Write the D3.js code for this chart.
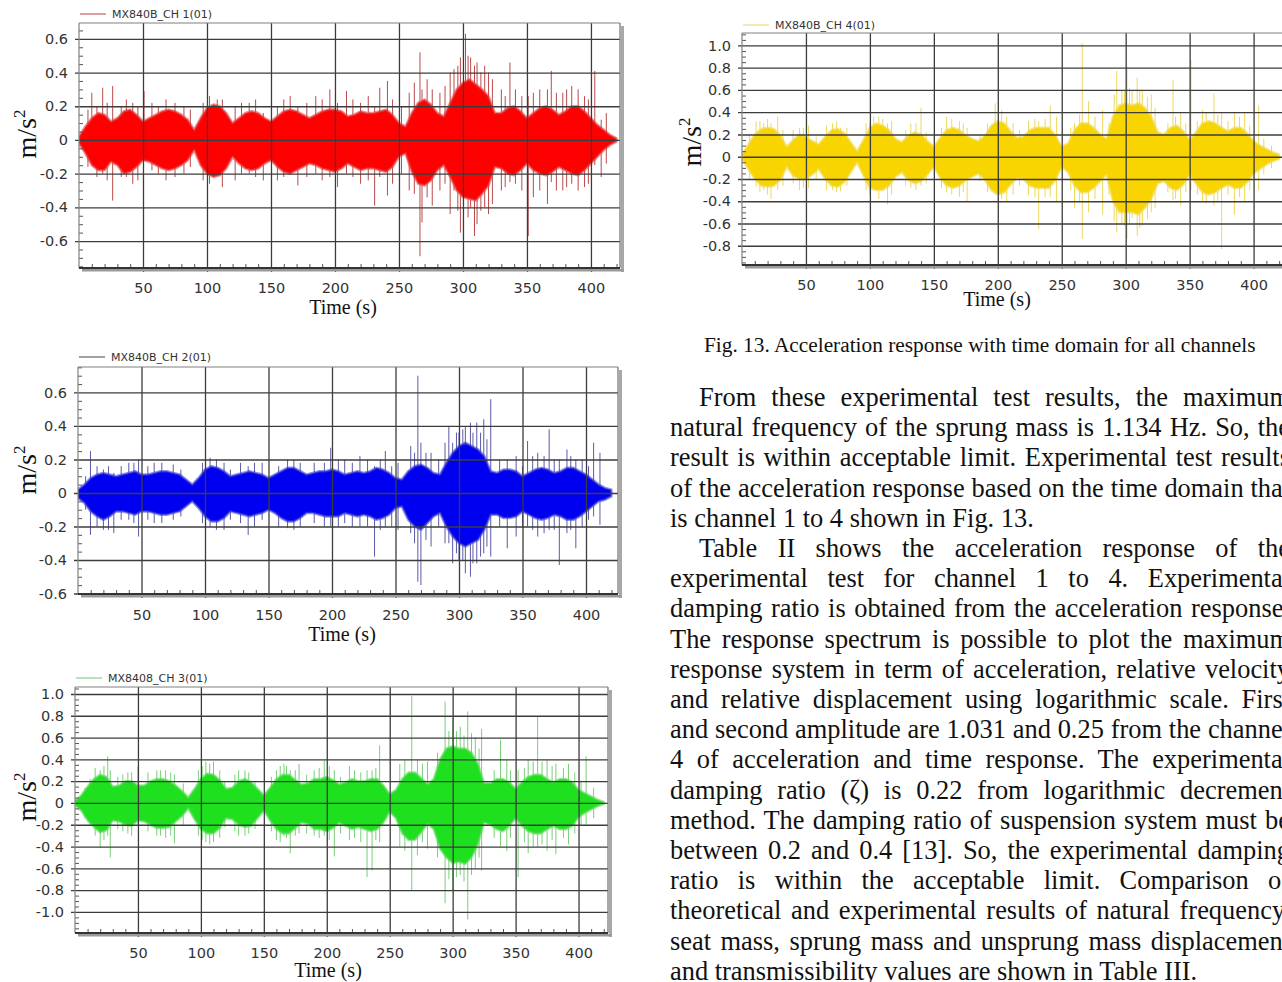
<!DOCTYPE html>
<html lang="en">
<head>
<meta charset="UTF-8" />
<title>Fig. 13 Acceleration response</title>
<script src="https://cdn.jsdelivr.net/npm/d3@7"></script>
<style>
  body { margin: 0; background: #fff; overflow: hidden; }
  svg { display: block; }
  .tick text { font-family: "DejaVu Sans", Verdana, sans-serif; font-size: 14.5px; fill: #333; }
  .legend { font-family: "DejaVu Sans", sans-serif; font-size: 11px; fill: #333; }
  .serif { font-family: "Liberation Serif", "Times New Roman", serif; fill: #111; }
</style>
</head>
<body>
<svg id="page" width="1282" height="982"></svg>
<script>
// sample times of the envelope readings (s)
var times = [0,5,10,15,20,25,30,35,40,45,50,55,60,65,70,75,80,85,90,95,
  100,105,110,115,120,125,130,135,140,145,150,155,160,165,170,175,180,185,190,195,
  200,205,210,215,220,225,230,235,240,245,250,255,260,265,270,275,280,285,290,295,
  300,305,310,315,320,325,330,335,340,345,350,355,360,365,370,375,380,385,390,395,
  400,405,410,415,420];

var xTicks = [50,100,150,200,250,300,350,400];
var yTicks1 = [-0.6,-0.4,-0.2,0,0.2,0.4,0.6];
var yTicks2 = [-0.6,-0.4,-0.2,0,0.2,0.4,0.6];
var yTicks3 = [-1.0,-0.8,-0.6,-0.4,-0.2,0,0.2,0.4,0.6,0.8,1.0];
var yTicks4 = [-0.8,-0.6,-0.4,-0.2,0,0.2,0.4,0.6,0.8,1.0];

// dense body of the signal: upper / lower extent every 5 s (m/s^2)
var ch1Upper = [0.02,0.08,0.13,0.16,0.15,0.11,0.13,0.17,0.18,0.15,
  0.11,0.13,0.15,0.17,0.18,0.17,0.15,0.12,0.06,0.13,
  0.19,0.21,0.20,0.16,0.10,0.13,0.16,0.17,0.16,0.13,
  0.11,0.14,0.17,0.18,0.17,0.15,0.13,0.15,0.17,0.18,
  0.18,0.17,0.14,0.15,0.17,0.16,0.16,0.17,0.18,0.15,
  0.10,0.08,0.16,0.22,0.24,0.21,0.16,0.14,0.22,0.30,
  0.34,0.36,0.33,0.30,0.26,0.16,0.16,0.19,0.20,0.17,
  0.13,0.16,0.19,0.20,0.18,0.15,0.17,0.20,0.20,0.17,
  0.13,0.09,0.06,0.03,0.01];
var ch1Lower = [-0.02,-0.08,-0.15,-0.18,-0.18,-0.13,-0.15,-0.20,-0.19,-0.16,
  -0.12,-0.13,-0.15,-0.17,-0.18,-0.17,-0.15,-0.12,-0.06,-0.15,
  -0.20,-0.22,-0.21,-0.17,-0.10,-0.14,-0.17,-0.18,-0.17,-0.14,
  -0.12,-0.16,-0.19,-0.20,-0.18,-0.16,-0.14,-0.15,-0.17,-0.18,
  -0.19,-0.17,-0.14,-0.16,-0.18,-0.17,-0.17,-0.18,-0.19,-0.16,
  -0.10,-0.08,-0.19,-0.26,-0.27,-0.24,-0.18,-0.15,-0.22,-0.30,
  -0.34,-0.35,-0.36,-0.32,-0.27,-0.16,-0.17,-0.20,-0.21,-0.18,
  -0.14,-0.18,-0.20,-0.21,-0.19,-0.16,-0.18,-0.20,-0.21,-0.18,
  -0.14,-0.10,-0.06,-0.03,-0.01];

var ch2Upper = [0.02,0.05,0.09,0.11,0.12,0.11,0.10,0.11,0.12,0.13,
  0.11,0.11,0.12,0.13,0.13,0.12,0.11,0.08,0.05,0.09,
  0.14,0.16,0.15,0.13,0.10,0.11,0.12,0.13,0.12,0.11,
  0.09,0.11,0.13,0.15,0.15,0.13,0.11,0.12,0.13,0.13,
  0.14,0.13,0.11,0.12,0.13,0.12,0.13,0.15,0.14,0.12,
  0.09,0.08,0.13,0.16,0.17,0.15,0.12,0.11,0.18,0.24,
  0.28,0.30,0.28,0.26,0.22,0.13,0.12,0.14,0.14,0.13,
  0.10,0.12,0.14,0.15,0.14,0.12,0.13,0.15,0.15,0.13,
  0.11,0.08,0.05,0.03,0.02];
var ch2Lower = [-0.03,-0.06,-0.11,-0.14,-0.16,-0.14,-0.11,-0.11,-0.12,-0.13,
  -0.11,-0.11,-0.12,-0.13,-0.13,-0.12,-0.11,-0.08,-0.05,-0.09,
  -0.14,-0.17,-0.17,-0.15,-0.11,-0.12,-0.13,-0.14,-0.13,-0.12,
  -0.10,-0.12,-0.15,-0.17,-0.17,-0.15,-0.12,-0.12,-0.13,-0.14,
  -0.14,-0.14,-0.12,-0.13,-0.14,-0.13,-0.14,-0.16,-0.15,-0.13,
  -0.09,-0.08,-0.16,-0.20,-0.22,-0.18,-0.14,-0.12,-0.20,-0.26,
  -0.30,-0.32,-0.30,-0.28,-0.22,-0.13,-0.13,-0.15,-0.15,-0.14,
  -0.11,-0.13,-0.15,-0.16,-0.15,-0.13,-0.14,-0.16,-0.16,-0.14,
  -0.11,-0.08,-0.05,-0.04,-0.02];

var ch3Upper = [0.02,0.07,0.15,0.22,0.26,0.24,0.15,0.16,0.20,0.20,
  0.16,0.16,0.20,0.22,0.22,0.20,0.16,0.11,0.05,0.13,
  0.22,0.27,0.26,0.21,0.13,0.14,0.20,0.22,0.19,0.13,
  0.07,0.14,0.22,0.26,0.26,0.21,0.17,0.18,0.22,0.22,
  0.24,0.21,0.17,0.19,0.22,0.20,0.20,0.22,0.22,0.16,
  0.08,0.12,0.22,0.28,0.28,0.23,0.17,0.22,0.40,0.50,
  0.52,0.50,0.50,0.46,0.36,0.18,0.18,0.22,0.22,0.19,
  0.13,0.19,0.24,0.26,0.26,0.22,0.19,0.22,0.22,0.19,
  0.12,0.09,0.06,0.03,0.01];
var ch3Lower = [-0.02,-0.07,-0.16,-0.22,-0.27,-0.25,-0.16,-0.17,-0.20,-0.21,
  -0.16,-0.17,-0.20,-0.23,-0.23,-0.22,-0.17,-0.12,-0.05,-0.15,
  -0.24,-0.28,-0.28,-0.23,-0.14,-0.15,-0.20,-0.22,-0.21,-0.14,
  -0.07,-0.16,-0.24,-0.28,-0.28,-0.23,-0.18,-0.19,-0.24,-0.24,
  -0.26,-0.23,-0.18,-0.21,-0.24,-0.22,-0.24,-0.26,-0.24,-0.18,
  -0.08,-0.14,-0.28,-0.34,-0.34,-0.27,-0.19,-0.24,-0.42,-0.50,
  -0.55,-0.54,-0.56,-0.50,-0.38,-0.18,-0.20,-0.24,-0.26,-0.21,
  -0.14,-0.21,-0.26,-0.28,-0.28,-0.24,-0.21,-0.24,-0.24,-0.21,
  -0.13,-0.09,-0.06,-0.03,-0.01];

var ch4Upper = [0.02,0.11,0.20,0.25,0.26,0.25,0.19,0.09,0.15,0.20,
  0.18,0.14,0.11,0.18,0.24,0.25,0.21,0.13,0.05,0.15,
  0.26,0.30,0.28,0.24,0.16,0.13,0.19,0.22,0.20,0.14,
  0.09,0.17,0.24,0.26,0.24,0.19,0.16,0.14,0.19,0.28,
  0.32,0.30,0.23,0.17,0.18,0.24,0.26,0.26,0.26,0.19,
  0.09,0.12,0.24,0.30,0.30,0.26,0.20,0.16,0.36,0.46,
  0.48,0.46,0.48,0.44,0.36,0.22,0.20,0.26,0.28,0.23,
  0.15,0.22,0.30,0.32,0.30,0.26,0.23,0.26,0.26,0.21,
  0.14,0.10,0.07,0.04,0.02];
var ch4Lower = [-0.02,-0.11,-0.20,-0.26,-0.27,-0.26,-0.21,-0.09,-0.17,-0.20,
  -0.20,-0.16,-0.11,-0.20,-0.26,-0.27,-0.23,-0.14,-0.05,-0.17,
  -0.28,-0.30,-0.30,-0.26,-0.18,-0.14,-0.21,-0.24,-0.22,-0.16,
  -0.09,-0.19,-0.26,-0.28,-0.26,-0.21,-0.18,-0.15,-0.21,-0.30,
  -0.34,-0.32,-0.25,-0.19,-0.20,-0.26,-0.28,-0.28,-0.28,-0.21,
  -0.09,-0.14,-0.26,-0.32,-0.32,-0.28,-0.22,-0.16,-0.40,-0.50,
  -0.50,-0.50,-0.52,-0.46,-0.38,-0.24,-0.22,-0.28,-0.30,-0.25,
  -0.16,-0.24,-0.32,-0.34,-0.32,-0.28,-0.25,-0.28,-0.28,-0.23,
  -0.15,-0.11,-0.07,-0.04,-0.02];

// peaks sticking out of the body: [time, top, bottom]
var ch1Spikes = [[7,0.18,-0.16],[10,0.28,-0.1],[14,0.2,-0.22],[18.5,0.31,-0.2],[22,0.22,-0.24],
  [26.3,0.32,-0.36],[33,0.2,-0.22],[37,0.24,-0.22],[42,0.22,-0.26],[46,0.2,-0.24],[50.8,0.29,-0.12],
  [57,0.22,-0.18],[62,0.2,-0.2],[68,0.24,-0.24],[75,0.22,-0.22],[82,0.2,-0.2],[87,0.18,-0.16],
  [97,0.22,-0.24],[102,0.26,-0.26],[108,0.24,-0.2],[112,0.24,-0.28],[122,0.2,-0.24],[127,0.22,-0.2],
  [133,0.22,-0.2],[138,0.24,-0.22],[144,0.16,-0.24],[155,0.2,-0.24],[160,0.24,-0.22],[165,0.26,-0.2],
  [171,0.2,-0.27],[178,0.22,-0.22],[185,0.26,-0.2],[190,0.24,-0.24],[196,0.3,-0.22],[202,0.22,-0.28],
  [209,0.29,-0.2],[214,0.24,-0.22],[220,0.22,-0.26],[226,0.26,-0.24],[231,0.2,-0.39],[235,0.31,-0.22],
  [241,0.35,-0.33],[245,0.24,-0.26],[252,0.2,-0.2],[258,0.28,-0.3],[262,0.34,-0.32],[266.4,0.52,-0.69],
  [268,0.3,-0.49],[272,0.36,-0.34],[276,0.3,-0.39],[282,0.28,-0.3],[286,0.32,-0.26],[290,0.4,-0.44],
  [293,0.42,-0.3],[296,0.44,-0.42],[298,0.49,-0.55],[302,0.63,-0.3],[304,0.5,-0.46],[306,0.49,-0.4],
  [309,0.44,-0.57],[311,0.46,-0.5],[314,0.4,-0.42],[317,0.44,-0.4],[320,0.4,-0.44],[323,0.36,-0.38],
  [330,0.3,-0.3],[333,0.26,-0.28],[336.7,0.46,-0.25],[341,0.3,-0.26],[346,0.26,-0.3],[351,0.26,-0.57],
  [355,0.28,-0.34],[360,0.3,-0.3],[366,0.3,-0.38],[369,0.41,-0.25],[373,0.28,-0.3],[378,0.28,-0.3],
  [381,0.3,-0.28],[385,0.32,-0.26],[390,0.3,-0.3],[395,0.26,-0.28],[398,0.24,-0.26],[403,0.41,-0.15],
  [408,0.12,-0.22],[412,0.16,-0.14]];
var ch2Spikes = [[6,0.1,-0.1],[9.8,0.25,-0.25],[15,0.16,-0.2],[20,0.14,-0.22],[24,0.16,-0.22],
  [28.2,0.12,-0.24],[34,0.16,-0.16],[40,0.18,-0.16],[44,0.18,-0.18],[47.7,0.2,-0.26],[55,0.16,-0.16],
  [60,0.18,-0.18],[66,0.18,-0.18],[75,0.17,-0.16],[81,0.14,-0.14],[98,0.18,-0.18],[104,0.21,-0.2],
  [109,0.2,-0.22],[115,0.18,-0.22],[120,0.14,-0.16],[128,0.18,-0.18],[134,0.16,-0.25],[139,0.18,-0.2],
  [145,0.18,-0.16],[158,0.16,-0.2],[165,0.2,-0.21],[170,0.2,-0.22],[175,0.18,-0.2],[186,0.18,-0.18],
  [194,0.18,-0.2],[199,0.27,-0.2],[205,0.2,-0.2],[210,0.2,-0.18],[216,0.18,-0.2],[222,0.22,-0.2],
  [228,0.2,-0.2],[233.5,0.16,-0.38],[238,0.2,-0.22],[242,0.25,-0.2],[247,0.16,-0.2],[252,0.18,-0.22],
  [262,0.28,-0.24],[265,0.24,-0.3],[267.6,0.7,-0.53],[270,0.3,-0.55],[274,0.24,-0.28],[278,0.24,-0.32],
  [284,0.2,-0.2],[289,0.3,-0.3],[292,0.4,-0.3],[295,0.3,-0.42],[298,0.36,-0.36],[300,0.36,-0.4],
  [303,0.38,-0.4],[305,0.4,-0.48],[309,0.42,-0.5],[311,0.36,-0.42],[314,0.42,-0.42],[317,0.36,-0.38],
  [319.5,0.44,-0.36],[322,0.32,-0.32],[325,0.56,-0.38],[332,0.2,-0.2],[338,0.2,-0.33],[345,0.22,-0.26],
  [350,0.16,-0.2],[354,0.31,-0.2],[358,0.22,-0.22],[362,0.24,-0.26],[367,0.22,-0.24],[371,0.38,-0.22],
  [375,0.2,-0.22],[379,0.2,-0.43],[385,0.26,-0.24],[388,0.22,-0.22],[392,0.2,-0.33],[397,0.2,-0.2],
  [402,0.16,-0.16],[406,0.3,-0.14],[411,0.24,-0.19]];
var ch3Spikes = [[8,0.14,-0.14],[12,0.22,-0.2],[16,0.32,-0.3],[20,0.3,-0.41],[23,0.34,-0.34],
  [26,0.43,-0.3],[28,0.3,-0.5],[34,0.24,-0.24],[38,0.26,-0.26],[42,0.28,-0.28],[45,0.28,-0.3],
  [50,0.33,-0.2],[58,0.28,-0.26],[65,0.3,-0.3],[68,0.3,-0.3],[72,0.3,-0.32],[76,0.28,-0.3],
  [79,0.26,-0.37],[86,0.18,-0.2],[98,0.3,-0.3],[101,0.34,-0.34],[104,0.38,-0.36],[107,0.36,-0.38],
  [110,0.38,-0.36],[115,0.3,-0.32],[119,0.2,-0.22],[127,0.26,-0.26],[130,0.3,-0.3],[135,0.3,-0.3],
  [138,0.28,-0.28],[143,0.2,-0.24],[156,0.24,-0.26],[160,0.3,-0.34],[163,0.34,-0.36],[166,0.36,-0.3],
  [168,0.34,-0.32],[171,0.3,-0.46],[175,0.3,-0.3],[178,0.36,-0.28],[184,0.26,-0.28],[190,0.3,-0.3],
  [194,0.32,-0.32],[198,0.39,-0.3],[202,0.34,-0.34],[206,0.3,-0.49],[211,0.24,-0.28],[218,0.34,-0.34],
  [222,0.3,-0.32],[227,0.28,-0.36],[232,0.3,-0.68],[236,0.3,-0.62],[239,0.32,-0.34],[242,0.53,-0.36],
  [258,0.36,-0.4],[262,0.4,-0.44],[267.5,0.98,-0.8],[272,0.4,-0.48],[276,0.36,-0.36],[280,0.38,-0.42],
  [288,0.46,-0.5],[294,0.93,-0.92],[297,0.66,-0.7],[300,0.78,-0.8],[303,0.66,-0.68],[306,0.7,-0.66],
  [309,0.62,-0.72],[312,0.84,-1.07],[315,0.64,-0.66],[318,0.6,-0.6],[321,0.5,-0.5],[323,0.68,-0.62],
  [333,0.3,-0.32],[338,0.58,-0.4],[343,0.4,-0.44],[346,0.3,-0.32],[352,0.3,-0.68],[357,0.32,-0.36],
  [360,0.4,-0.46],[364,0.38,-0.4],[367.5,0.79,-0.4],[371,0.38,-0.38],[375,0.4,-0.44],[379,0.34,-0.34],
  [382,0.36,-0.47],[388,0.32,-0.32],[392,0.36,-0.38],[397,0.28,-0.28],[402,0.2,-0.2],[406,0.43,-0.2],
  [412,0.14,-0.14]];
var ch4Spikes = [[6,0.2,-0.2],[11,0.32,-0.27],[14,0.32,-0.32],[17,0.3,-0.3],[20,0.34,-0.34],
  [22.7,0.3,-0.38],[27.9,0.36,-0.3],[32,0.24,-0.26],[40,0.24,-0.24],[45,0.26,-0.3],[48,0.26,-0.28],
  [52,0.28,-0.28],[58,0.18,-0.2],[66,0.28,-0.3],[70.8,0.3,-0.3],[74,0.32,-0.32],[77,0.26,-0.31],
  [82,0.26,-0.26],[97,0.3,-0.3],[100,0.3,-0.34],[103,0.36,-0.3],[107,0.36,-0.38],[110,0.34,-0.3],
  [113.8,0.3,-0.43],[117,0.32,-0.34],[128,0.24,-0.26],[132,0.3,-0.28],[136,0.3,-0.3],[140,0.44,-0.26],
  [144,0.22,-0.24],[156,0.26,-0.28],[160,0.36,-0.32],[164,0.34,-0.34],[170,0.32,-0.36],[173,0.3,-0.32],
  [176,0.26,-0.4],[186,0.2,-0.22],[192,0.3,-0.32],[198,0.48,-0.34],[203,0.42,-0.38],[207,0.36,-0.4],
  [212,0.3,-0.34],[217,0.24,-0.26],[224,0.32,-0.34],[229,0.34,-0.36],[232,0.32,-0.65],[237,0.34,-0.36],
  [241,0.46,-0.36],[246,0.36,-0.4],[257,0.26,-0.3],[260,0.3,-0.46],[264,0.38,-0.4],[266,1.02,-0.74],
  [271,0.5,-0.5],[276,0.36,-0.38],[282,0.42,-0.52],[287,0.3,-0.34],[291,0.56,-0.58],[293,0.77,-0.68],
  [297,0.6,-0.6],[299,0.6,-0.62],[301,0.81,-0.74],[303,0.62,-0.6],[305,0.6,-0.55],[309,0.71,-0.71],
  [311,0.6,-0.64],[313,0.6,-0.62],[317,0.54,-0.56],[320,0.56,-0.5],[323,0.44,-0.46],[333,0.3,-0.32],
  [337,0.69,-0.39],[339,0.36,-0.38],[343,0.4,-0.44],[347,0.3,-0.32],[351,0.87,-0.3],[356,0.32,-0.34],
  [360,0.42,-0.4],[363,0.4,-0.42],[369,0.57,-0.44],[372,0.38,-0.4],[375,0.4,-0.83],[380,0.32,-0.34],
  [385,0.4,-0.52],[389,0.36,-0.36],[393,0.4,-0.4],[397,0.28,-0.3],[404,0.46,-0.3],[408,0.16,-0.16],
  [414,0.1,-0.1]];

var legendNames = ["MX840B_CH 1(01)", "MX840B_CH 2(01)", "MX8408_CH 3(01)", "MX840B_CH 4(01)"];

var captionText = "Fig. 13. Acceleration response with time domain for all channels";
// [text, indented, justified]
var paragraphLines = [
  ["From these experimental test results, the maximum", true, true],
  ["natural frequency of the sprung mass is 1.134 Hz. So, the", false, true],
  ["result is within acceptable limit. Experimental test results", false, true],
  ["of the acceleration response based on the time domain that", false, true],
  ["is channel 1 to 4 shown in Fig. 13.", false, false],
  ["Table II shows the acceleration response of the", true, true],
  ["experimental test for channel 1 to 4. Experimental", false, true],
  ["damping ratio is obtained from the acceleration response.", false, true],
  ["The response spectrum is possible to plot the maximum", false, true],
  ["response system in term of acceleration, relative velocity", false, true],
  ["and relative displacement using logarithmic scale. First", false, true],
  ["and second amplitude are 1.031 and 0.25 from the channel", false, true],
  ["4 of acceleration and time response. The experimental", false, true],
  ["damping ratio (\u03b6) is 0.22 from logarithmic decrement", false, true],
  ["method. The damping ratio of suspension system must be", false, true],
  ["between 0.2 and 0.4 [13]. So, the experimental damping", false, true],
  ["ratio is within the acceptable limit. Comparison of", false, true],
  ["theoretical and experimental results of natural frequency,", false, true],
  ["seat mass, sprung mass and unsprung mass displacement", false, true],
  ["and transmissibility values are shown in Table III.", false, false]
];

var svg = d3.select("#page");

var charts = [
  { id: "c1", name: legendNames[0], up: ch1Upper, lo: ch1Lower, spikes: ch1Spikes, yTicks: yTicks1,
    body: "#ff0000", edge: "#e04848", spike: "#b94a4a", key: "#b84040",
    l: 79, r: 620, t: 23, b: 268, xMax: 422.7, yMin: -0.76, yMax: 0.694,
    yLab: [26, 134], xLab: [343, 314], xTickBase: 293, legendY: 14 },
  { id: "c2", name: legendNames[1], up: ch2Upper, lo: ch2Lower, spikes: ch2Spikes, yTicks: yTicks2,
    body: "#0000f0", edge: "#4848d0", spike: "#5a5aa8", key: "#444",
    l: 78, r: 618, t: 367, b: 594, xMax: 425.2, yMin: -0.603, yMax: 0.752,
    yLab: [26, 470], xLab: [342, 641], xTickBase: 620, legendY: 357 },
  { id: "c3", name: legendNames[2], up: ch3Upper, lo: ch3Lower, spikes: ch3Spikes, yTicks: yTicks3,
    body: "#1ee01e", edge: "#5cd85c", spike: "#78d078", key: "#6cc86c",
    l: 75, r: 608, t: 687, b: 933, xMax: 423.4, yMin: -1.193, yMax: 1.064,
    yLab: [26, 797], xLab: [328, 977], xTickBase: 958, legendY: 678 },
  { id: "c4", name: legendNames[3], up: ch4Upper, lo: ch4Lower, spikes: ch4Spikes, yTicks: yTicks4,
    body: "#f8d400", edge: "#f2d84a", spike: "#eed85a", key: "#e8d470",
    l: 742, r: 1283, t: 33, b: 265, xMax: 423, yMin: -0.973, yMax: 1.112,
    yLab: [691, 142], xLab: [997, 306], xTickBase: 290, legendY: 25 }
];

var tickFont = 14.5;

function fmtY(v) {
  if (v === 0) return "0";
  return (v < 0 ? "-" : "") + Math.abs(v).toFixed(1);
}

function drawChart(c) {
  var x = d3.scaleLinear().domain([0, c.xMax]).range([c.l, c.r]);
  var y = d3.scaleLinear().domain([c.yMin, c.yMax]).range([c.b, c.t]);
  var g = svg.append("g").attr("id", c.id);

  svg.append("clipPath").attr("id", "clip-" + c.id)
    .append("rect").attr("x", c.l).attr("y", c.t).attr("width", c.r - c.l).attr("height", c.b - c.t);
  var plot = g.append("g").attr("clip-path", "url(#clip-" + c.id + ")");

  // zero trace at start/end
  plot.append("line")
    .attr("x1", x(0)).attr("x2", x(times[times.length - 1]))
    .attr("y1", y(0)).attr("y2", y(0))
    .attr("stroke", c.body).attr("stroke-width", 1.5);

  // peaks first so the dense body covers their inner part
  plot.selectAll("line.spike").data(c.spikes).join("line")
    .attr("class", "spike")
    .attr("x1", d => x(d[0])).attr("x2", d => x(d[0]))
    .attr("y1", d => y(d[1])).attr("y2", d => y(d[2]))
    .attr("stroke", c.spike).attr("stroke-width", 1);

  var area = d3.area()
    .x((d, i) => x(times[i]))
    .y0((d, i) => y(c.lo[i]))
    .y1(d => y(d));
  plot.append("path").datum(c.up)
    .attr("d", area)
    .attr("fill", c.body)
    .attr("stroke", c.edge).attr("stroke-width", 2.5)
    .attr("stroke-opacity", 0.6).attr("stroke-linejoin", "round");

  // grid lines (drawn over the data, extending slightly past the axes)
  var gx = g.append("g").attr("transform", "translate(0," + (c.b + 4) + ")")
    .call(d3.axisBottom(x).tickValues(xTicks).tickFormat(d3.format("d"))
      .tickSize(-(c.b - c.t + 4)).tickSizeOuter(0)
      .tickPadding(c.xTickBase - (c.b + 4) - 0.71 * tickFont));
  var gy = g.append("g").attr("transform", "translate(" + (c.l - 4) + ",0)")
    .call(d3.axisLeft(y).tickValues(c.yTicks).tickFormat(fmtY)
      .tickSize(-(c.r - c.l + 4)).tickSizeOuter(0).tickPadding(7));
  [gx, gy].forEach(function(a) {
    a.select(".domain").remove();
    a.selectAll(".tick line").attr("stroke", "#3c3c3c").attr("stroke-width", 1.3);
  });

  // minor ticks
  var xMinor = d3.range(10, c.xMax, 10).filter(v => v % 50 !== 0);
  var mx = g.append("g").attr("transform", "translate(0," + c.b + ")")
    .call(d3.axisBottom(x).tickValues(xMinor).tickFormat("").tickSize(-4).tickSizeOuter(0));
  var yMinor = d3.range(Math.ceil(c.yMin / 0.05) * 0.05, c.yMax, 0.05)
    .filter(v => Math.abs(Math.round(v * 100) % 20) > 1);
  var my = g.append("g").attr("transform", "translate(" + c.l + ",0)")
    .call(d3.axisLeft(y).tickValues(yMinor).tickFormat("").tickSize(-4).tickSizeOuter(0));
  [mx, my].forEach(function(a) {
    a.select(".domain").remove();
    a.selectAll(".tick line").attr("stroke", "#555").attr("stroke-width", 1);
  });

  // frame with drop shadow on right and bottom
  g.append("rect").attr("x", c.r + 1).attr("y", c.t + 3).attr("width", 3).attr("height", c.b - c.t + 1)
    .attr("fill", "#a8a8a8");
  g.append("rect").attr("x", c.l + 3).attr("y", c.b + 1).attr("width", c.r - c.l + 1).attr("height", 2.5)
    .attr("fill", "#9a9a9a");
  g.append("line").attr("x1", c.l).attr("x2", c.r).attr("y1", c.t).attr("y2", c.t)
    .attr("stroke", "#808080").attr("stroke-width", 1.2);
  g.append("line").attr("x1", c.r).attr("x2", c.r).attr("y1", c.t).attr("y2", c.b)
    .attr("stroke", "#707070").attr("stroke-width", 1.2);
  g.append("line").attr("x1", c.l).attr("x2", c.l).attr("y1", c.t).attr("y2", c.b)
    .attr("stroke", "#808080").attr("stroke-width", 1.2);
  g.append("line").attr("x1", c.l).attr("x2", c.r).attr("y1", c.b).attr("y2", c.b)
    .attr("stroke", "#333").attr("stroke-width", 2.2);

  // legend
  g.append("line").attr("x1", c.l + 1).attr("x2", c.l + 27)
    .attr("y1", c.legendY).attr("y2", c.legendY)
    .attr("stroke", c.key).attr("stroke-width", 1);
  g.append("text").attr("class", "legend")
    .attr("x", c.l + 33).attr("y", c.legendY + 4).text(c.name);

  // axis titles
  var yl = g.append("text").attr("class", "serif")
    .attr("transform", "translate(" + c.yLab[0] + "," + c.yLab[1] + ") rotate(-90)")
    .attr("text-anchor", "middle").attr("dy", "0.35em")
    .attr("font-size", 28);
  yl.append("tspan").text("m/s");
  yl.append("tspan").attr("dy", -11).attr("font-size", 17).text("2");
  g.append("text").attr("class", "serif")
    .attr("x", c.xLab[0]).attr("y", c.xLab[1])
    .attr("text-anchor", "middle").attr("font-size", 20)
    .text("Time (s)");
}

charts.forEach(drawChart);

// caption
var cap = svg.append("text").attr("class", "serif")
  .attr("x", 704).attr("y", 352).attr("font-size", 18).text(captionText);
var capLen = cap.node().getComputedTextLength();
cap.attr("font-size", 18 * 552 / capLen);

// body text, justified to the column
var colLeft = 670, colRight = 1290, indent = 29, lineStep = 30.2, firstBase = 406;
var probe = svg.append("text").attr("class", "serif").attr("font-size", 26)
  .text(paragraphLines[4][0]);
var fs = 26 * 364 / probe.node().getComputedTextLength();
probe.remove();

paragraphLines.forEach(function(ln, i) {
  var x0 = colLeft + (ln[1] ? indent : 0);
  var t = svg.append("text").attr("class", "serif")
    .attr("x", x0).attr("y", firstBase + i * lineStep)
    .attr("font-size", fs)
    .text(ln[0]);
  if (ln[2]) {
    var len = t.node().getComputedTextLength();
    var gaps = ln[0].split(" ").length - 1;
    var ws = (colRight - x0 - len) / gaps;
    t.style("word-spacing", ws + "px");
  }
});
</script>
</body>
</html>
